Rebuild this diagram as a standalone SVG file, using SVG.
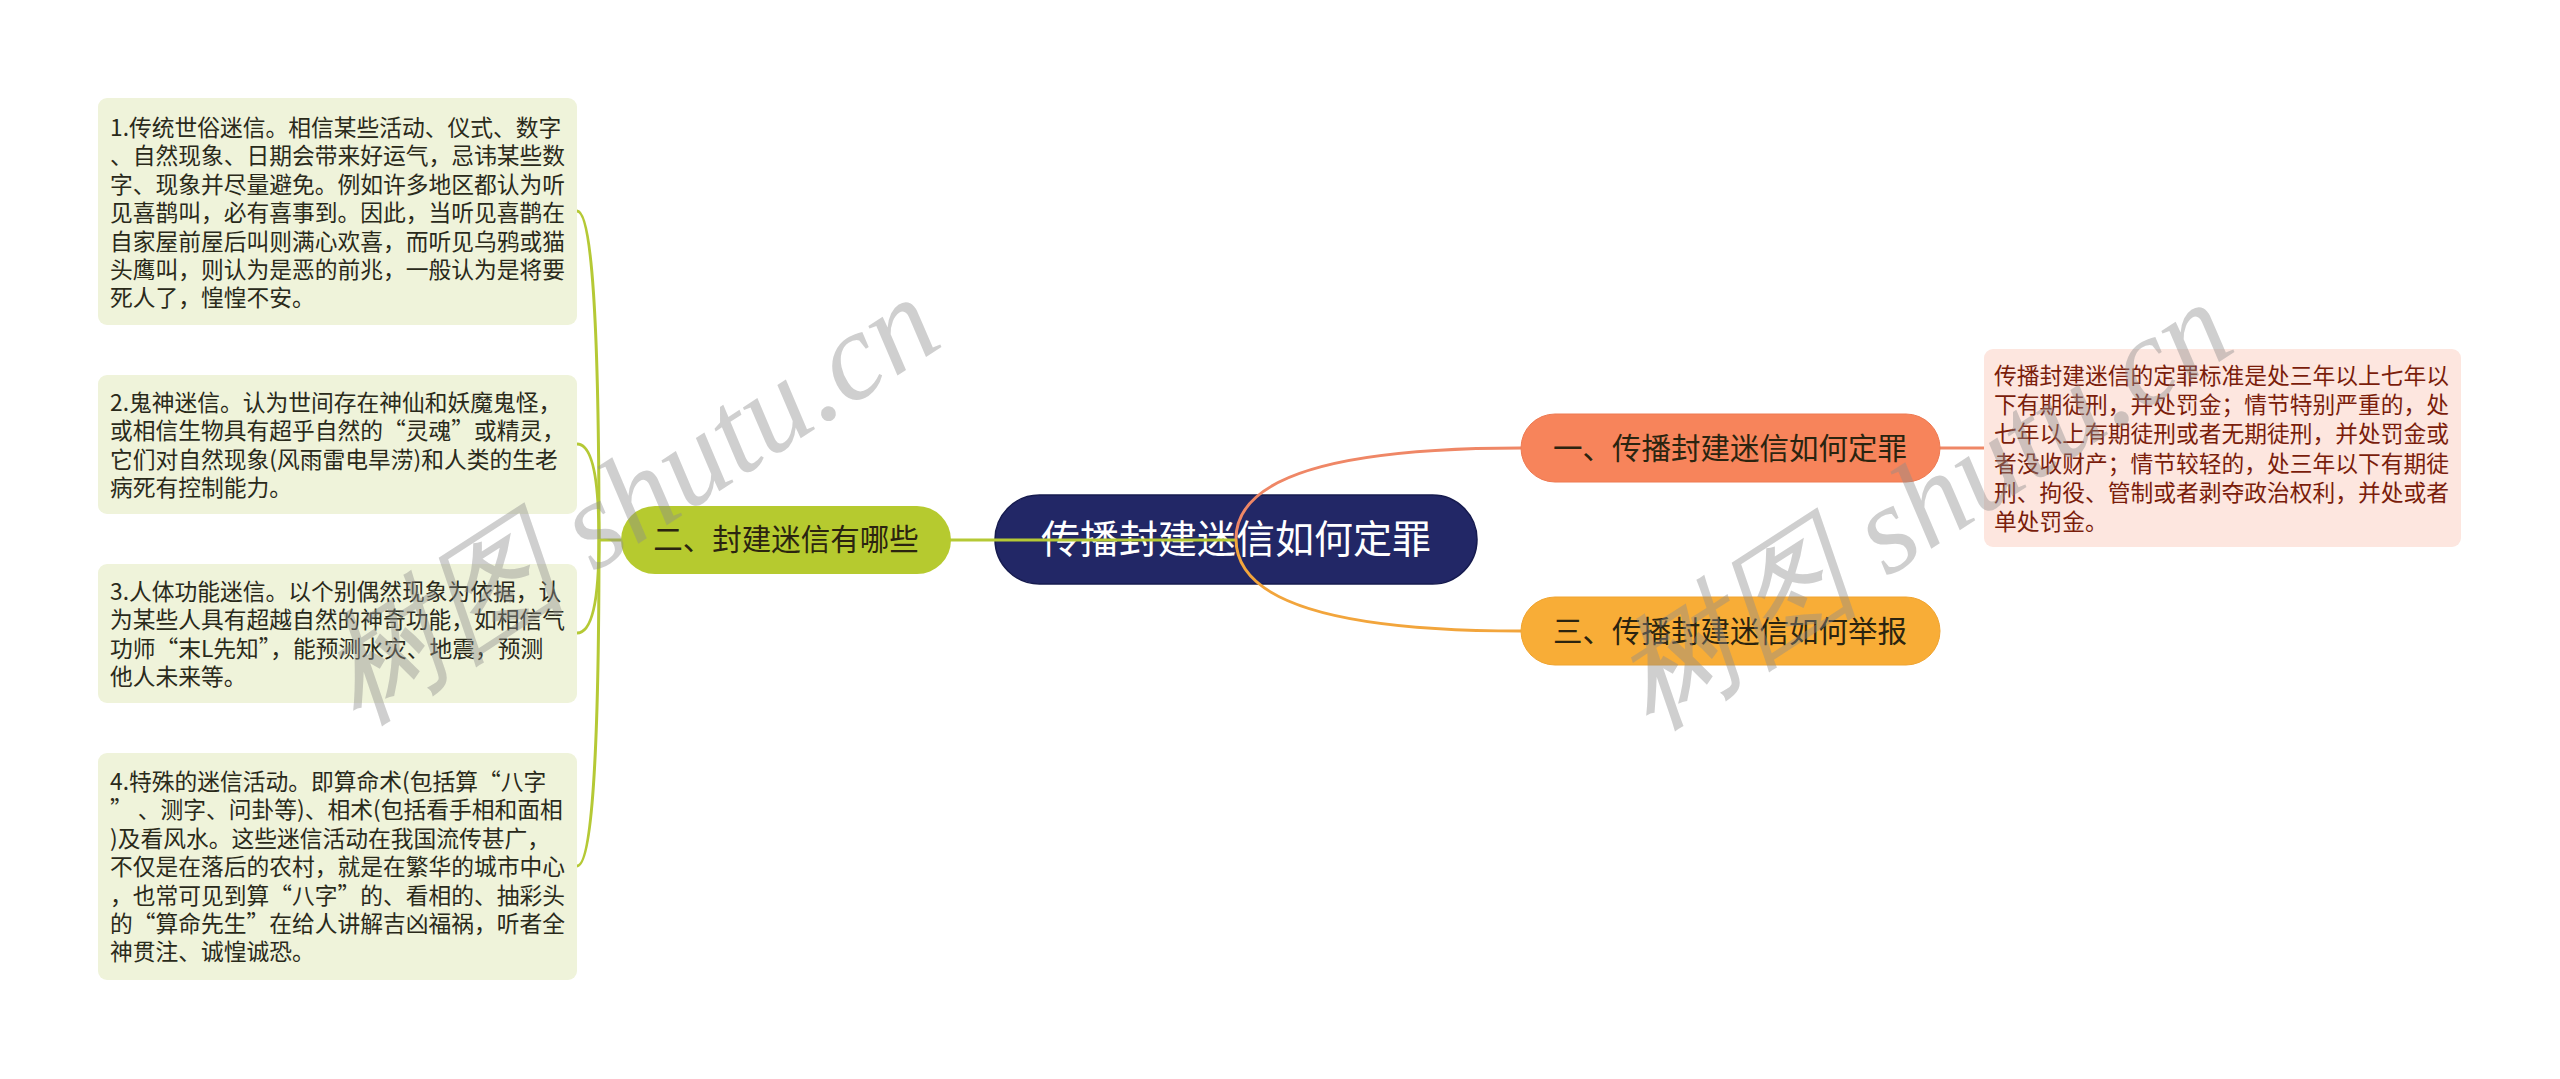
<svg xmlns="http://www.w3.org/2000/svg" width="2560" height="1079" viewBox="0 0 2560 1079">
<style>
.cjk{font-family:"Noto Sans CJK SC","Noto Sans",sans-serif}
.box-l{fill:#eff3da}
.box-r{fill:#fde6df}
.t-l{font-size:22.75px;fill:#2a2a1a}
.t-r{font-size:22.75px;fill:#7a1d0b}
.main{font-size:29.5px;fill:#2b2410;text-anchor:middle}
.lime{fill:none;stroke:#b5c935;stroke-width:3}
.wm{font-family:"Liberation Serif","DejaVu Serif",serif;font-style:italic;font-size:125px;fill:#8c8c8c;fill-opacity:0.42;text-anchor:middle}
</style>
<rect width="2560" height="1079" fill="#ffffff"/>

<g id="root">
<rect x="995" y="495" width="482" height="89" rx="44.5" fill="#222766" stroke="#161b4f" stroke-width="1.5"/>
<text class="cjk" x="1236" y="553" font-size="39" fill="#ffffff" text-anchor="middle">传播封建迷信如何定罪</text>
</g>

<g id="connectors">
<path d="M950 540 L1236 540" class="lime"/>
<path d="M1236 539 Q1236 448 1521 448" fill="none" stroke="#ef8766" stroke-width="3"/>
<path d="M1236 539 Q1236 631 1521 631" fill="none" stroke="#f2a53c" stroke-width="3"/>
<path d="M1940 448 L1984 448" fill="none" stroke="#ef8766" stroke-width="3"/>
<path d="M621 540 L599 540" class="lime"/>
<path d="M599 540 Q599 211 577 211" class="lime"/>
<path d="M599 540 Q599 444 577 444" class="lime"/>
<path d="M599 540 Q599 633 577 633" class="lime"/>
<path d="M599 540 Q599 866 577 866" class="lime"/>
</g>

<g id="n2">
<rect x="621" y="506" width="330" height="68" rx="34" fill="#b6ca2f"/>
<text class="cjk main" x="786" y="550">二、封建迷信有哪些</text>
</g>

<g id="n1">
<rect x="1521" y="414" width="419" height="68" rx="34" fill="#f7845b" stroke="#ee7a52" stroke-width="1"/>
<text class="cjk main" x="1730" y="459">一、传播封建迷信如何定罪</text>
</g>

<g id="n3">
<rect x="1521" y="597" width="419" height="68" rx="34" fill="#f8ad37" stroke="#f0a430" stroke-width="1"/>
<text class="cjk main" x="1730" y="642">三、传播封建迷信如何举报</text>
</g>

<g id="n1-detail">
<rect class="box-r" x="1984" y="349" width="477" height="198" rx="9"/>
<text class="cjk t-r">
<tspan x="1994" y="384">传播封建迷信的定罪标准是处三年以上七年以</tspan>
<tspan x="1994" y="413.2">下有期徒刑，并处罚金；情节特别严重的，处</tspan>
<tspan x="1994" y="442.4">七年以上有期徒刑或者无期徒刑，并处罚金或</tspan>
<tspan x="1994" y="471.6">者没收财产；情节较轻的，处三年以下有期徒</tspan>
<tspan x="1994" y="500.8">刑、拘役、管制或者剥夺政治权利，并处或者</tspan>
<tspan x="1994" y="530">单处罚金。</tspan>
</text>
</g>

<g id="n2-1">
<rect class="box-l" x="98" y="98" width="479" height="227" rx="9"/>
<text class="cjk t-l">
<tspan x="110" y="136">1.传统世俗迷信。相信某些活动、仪式、数字</tspan>
<tspan x="110" y="164.4">、自然现象、日期会带来好运气，忌讳某些数</tspan>
<tspan x="110" y="192.8">字、现象并尽量避免。例如许多地区都认为听</tspan>
<tspan x="110" y="221.2">见喜鹊叫，必有喜事到。因此，当听见喜鹊在</tspan>
<tspan x="110" y="249.6">自家屋前屋后叫则满心欢喜，而听见乌鸦或猫</tspan>
<tspan x="110" y="278">头鹰叫，则认为是恶的前兆，一般认为是将要</tspan>
<tspan x="110" y="306.4">死人了，惶惶不安。</tspan>
</text>
</g>

<g id="n2-2">
<rect class="box-l" x="98" y="375" width="479" height="139" rx="9"/>
<text class="cjk t-l">
<tspan x="110" y="411">2.鬼神迷信。认为世间存在神仙和妖魔鬼怪，</tspan>
<tspan x="110" y="439.4">或相信生物具有超乎自然的“灵魂”或精灵，</tspan>
<tspan x="110" y="467.8">它们对自然现象(风雨雷电旱涝)和人类的生老</tspan>
<tspan x="110" y="496.2">病死有控制能力。</tspan>
</text>
</g>

<g id="n2-3">
<rect class="box-l" x="98" y="564" width="479" height="139" rx="9"/>
<text class="cjk t-l">
<tspan x="110" y="600">3.人体功能迷信。以个别偶然现象为依据，认</tspan>
<tspan x="110" y="628.4">为某些人具有超越自然的神奇功能，如相信气</tspan>
<tspan x="110" y="656.8">功师“末L先知”，能预测水灾、地震，预测</tspan>
<tspan x="110" y="685.2">他人未来等。</tspan>
</text>
</g>

<g id="n2-4">
<rect class="box-l" x="98" y="753" width="479" height="227" rx="9"/>
<text class="cjk t-l">
<tspan x="110" y="790">4.特殊的迷信活动。即算命术(包括算“八字</tspan>
<tspan x="110" y="818.4">” 、测字、问卦等)、相术(包括看手相和面相</tspan>
<tspan x="110" y="846.8">)及看风水。这些迷信活动在我国流传甚广，</tspan>
<tspan x="110" y="875.2">不仅是在落后的农村，就是在繁华的城市中心</tspan>
<tspan x="110" y="903.6">，也常可见到算“八字”的、看相的、抽彩头</tspan>
<tspan x="110" y="932">的“算命先生”在给人讲解吉凶福祸，听者全</tspan>
<tspan x="110" y="960.4">神贯注、诚惶诚恐。</tspan>
</text>
</g>

<g id="watermarks">
<text class="wm" transform="translate(652 535) rotate(-33)">树图 shutu.cn</text>
<text class="wm" transform="translate(1945 540) rotate(-33)">树图 shutu.cn</text>
</g>
</svg>
